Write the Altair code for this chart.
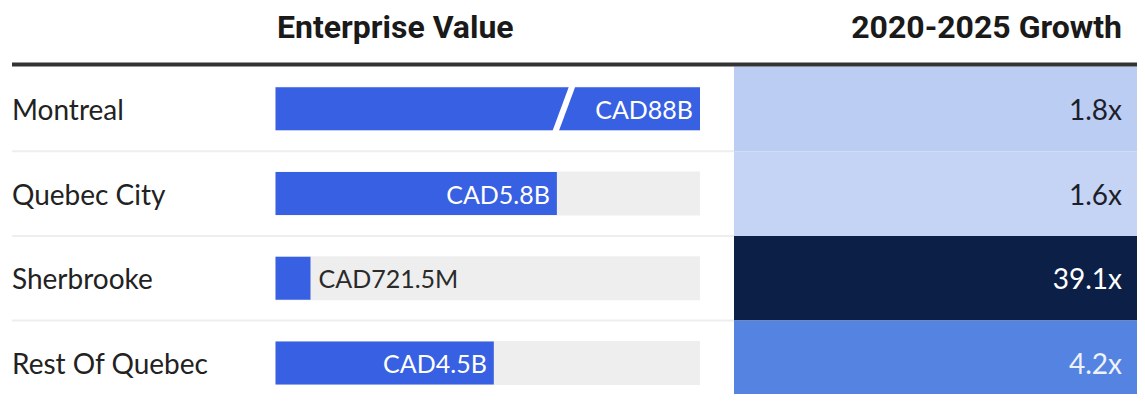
import altair as alt
import pandas as pd

# ---- data ----
cities = ["Montreal", "Quebec City", "Sherbrooke", "Rest Of Quebec"]
ev_values = [88.0, 5.8, 0.7215, 4.5]          # CAD billions
ev_labels = ["CAD88B", "CAD5.8B", "CAD721.5M", "CAD4.5B"]
label_inside = [True, True, False, True]
growth = [1.8, 1.6, 39.1, 4.2]
growth_labels = ["1.8x", "1.6x", "39.1x", "4.2x"]
cell_colors = ["#BCCDF4", "#C5D4F5", "#0C1F46", "#5583E1"]
text_colors = ["#1c1f2a", "#1c1f2a", "#ffffff", "#eef2fb"]
headers = ["Enterprise Value", "2020-2025 Growth"]

FONT = "Lato"
FONT_BAR = "Lato"
FONT_HDR = "Roboto"
FS = 28
FS_BAR = 25
BAR = "#3860E2"

df = pd.DataFrame({
    "city": cities,
    "ev": ev_values,
    "ev_label": ev_labels,
    "inside": label_inside,
    "growth": growth,
    "growth_label": growth_labels,
    "tcolor": text_colors,
    "tmax": [8.75] * 4,
})

xs = alt.Scale(domain=[0, 8.75], range=[267.5, 692], clamp=True)
ys = alt.Scale(domain=cities, range=[58.5, 397.3], paddingInner=0, paddingOuter=0)
Y = alt.Y("city:N", sort=cities, scale=ys, axis=None)

base = alt.Chart(df)

track = base.mark_bar(color="#eeeeee", height=44).encode(
    x=alt.X("zero:Q", scale=xs, axis=None), x2="tmax:Q", y=Y
).transform_calculate(zero="0")

bars = base.mark_bar(color=BAR, height=43).encode(
    x=alt.X("ev:Q", scale=xs, axis=None), y=Y
)

brk = alt.Chart(pd.DataFrame({"city": ["Montreal"]})).mark_rule(
    color="white", strokeWidth=6
).encode(x=alt.value(547.3), x2=alt.value(564.7), y=alt.value(124), y2=alt.value(77))

lab_in = base.transform_filter("datum.inside").mark_text(
    align="right", baseline="alphabetic", dx=-7, dy=10, color="white",
    font=FONT_BAR, fontSize=FS_BAR
).encode(x=alt.X("ev:Q", scale=xs, axis=None), y=Y, text="ev_label:N")

lab_out = base.transform_filter("!datum.inside").mark_text(
    align="left", baseline="alphabetic", dx=8, dy=10, color="#2a2a2a",
    font=FONT_BAR, fontSize=FS_BAR
).encode(x=alt.X("ev:Q", scale=xs, axis=None), y=Y, text="ev_label:N")

row_labels = base.mark_text(
    align="left", baseline="alphabetic", dy=11, color="#222222",
    font=FONT, fontSize=FS
).encode(x=alt.value(4), y=Y, text="city:N")

seps = base.mark_rule(color="#eeeeee", strokeWidth=2).encode(
    y=alt.Y("city:N", sort=cities, scale=ys, axis=None, bandPosition=1),
    x=alt.value(4), x2=alt.value(726)
)

cells = base.mark_rect().encode(
    y=Y, x=alt.value(726), x2=alt.value(1129),
    color=alt.Color("growth_label:N", scale=alt.Scale(domain=growth_labels, range=cell_colors), legend=None)
)

cell_text = base.mark_text(
    align="right", baseline="alphabetic", dy=11, font=FONT, fontSize=FS
).encode(
    x=alt.value(1114), y=Y, text="growth_label:N",
    color=alt.Color("tcolor:N", scale=None)
)

hdr_df = pd.DataFrame({"h": headers})
hdr1 = alt.Chart(hdr_df).transform_filter(alt.datum.h == headers[0]).mark_text(
    align="left", baseline="alphabetic", font=FONT_HDR, fontSize=32, fontWeight="bold", color="#1a1a1a"
).encode(x=alt.value(269), y=alt.value(29.5), text="h:N")
hdr2 = alt.Chart(hdr_df).transform_filter(alt.datum.h == headers[1]).mark_text(
    align="right", baseline="alphabetic", font=FONT_HDR, fontSize=32, fontWeight="bold", color="#1a1a1a"
).encode(x=alt.value(1114), y=alt.value(29.5), text="h:N")

hline = alt.Chart(pd.DataFrame({"a": [0]})).mark_rule(color="#333333", strokeWidth=4).encode(
    x=alt.value(4), x2=alt.value(1129), y=alt.value(56.5)
)

chart = alt.layer(
    seps, track, bars, brk, lab_in, lab_out, row_labels, cells, cell_text, hdr1, hdr2, hline
).properties(
    width=1129, height=386, padding=0, autosize=alt.AutoSizeParams(type="none"),
    background="white"
).configure_view(stroke=None)

chart.save("out.html", embed_options={"renderer": "svg", "actions": False})
